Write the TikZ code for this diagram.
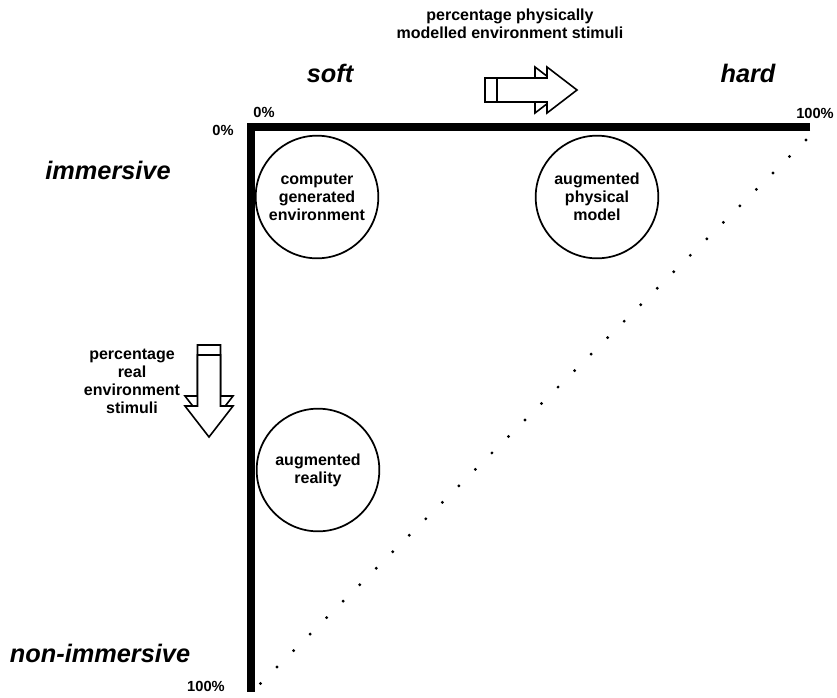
\documentclass[tikz,border=0pt]{standalone}
\usepackage{fontspec}
\setmainfont{Liberation Sans}
\begin{document}
\begin{tikzpicture}[x=0.75pt, y=-0.75pt,
    lbl/.style={font=\bfseries\fontsize{12}{13.5}\selectfont, align=center, inner sep=0pt},
    pct/.style={font=\bfseries\fontsize{11}{12}\selectfont, inner sep=0pt},
    side/.style={font=\bfseries\itshape\fontsize{19}{22}\selectfont, inner sep=0pt},
    bubble/.style={lbl, draw, circle, line width=1.3pt, minimum size=92pt},
    bar/.style={line width=6pt},
    dots/.style={line width=2.4pt, line cap=round, dash pattern=on 0pt off 17.5pt},
    block/.style={draw, fill=white, line width=1.2pt, line join=miter}]
    \useasboundingbox (0,0) rectangle (837,697);
    \coordinate (origin) at (251,127);
    \coordinate (hard100) at (810,127);
    \coordinate (real100) at (251,692);
    \coordinate (dstart) at (806,140);
    \coordinate (dend) at (256,688);
    \draw[bar] (hard100) -- (origin) -- (real100);
    \draw[dots] (dstart) -- (dend);
    \node[lbl] (xtitle) at (510,24) {percentage physically\\modelled environment stimuli};
    \node[side] (soft) at (330,73) {soft};
    \node[side] (hard) at (748,73) {hard};
    \node[side] (imm) at (108,170) {immersive};
    \node[side] (nonimm) at (100,653) {non-immersive};
    \node[pct] (xzero) at (264,112) {0\%};
    \node[pct] (yzero) at (223,130) {0\%};
    \node[pct] (xfull) at (815,113) {100\%};
    \node[pct] (yfull) at (206,686) {100\%};
    \node[lbl] (ytitle) at (132,381) {percentage\\real\\environment\\stimuli};
    \node[bubble] (cge) at (317,197) {computer\\generated\\environment};
    \node[bubble] (apm) at (597,197) {augmented\\physical\\model};
    \node[bubble] (ar) at (318,470) {augmented\\reality};
    \draw[block] (485,78) -- (535,78) -- (535,67) -- (565,90) -- (535,113) -- (535,102) -- (485,102) -- cycle;
    \draw[block] (497,78) -- (547,78) -- (547,67) -- (577,90) -- (547,113) -- (547,102) -- (497,102) -- cycle;
    \draw[block] (197.5,345) -- (220.5,345) -- (220.5,396) -- (233,396) -- (209,427) -- (185,396) -- (197.5,396) -- cycle;
    \draw[block] (197.5,355) -- (220.5,355) -- (220.5,406) -- (233,406) -- (209,437) -- (185,406) -- (197.5,406) -- cycle;
\end{tikzpicture}
\end{document}
